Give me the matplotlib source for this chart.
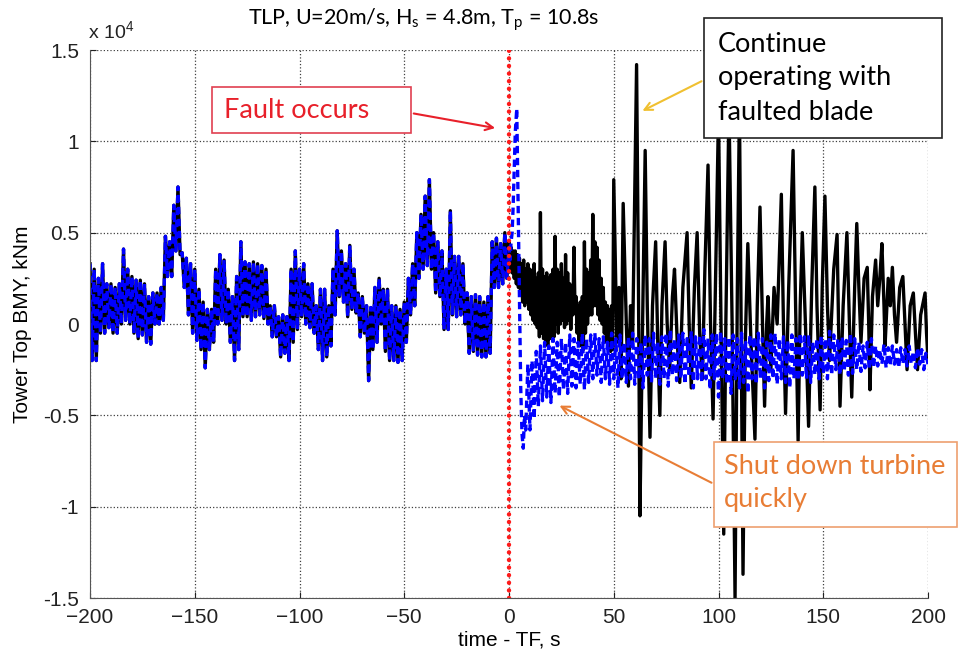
import numpy as np
import matplotlib.pyplot as plt
from matplotlib.patches import Rectangle

# values in units of 1e4 kNm

# before the fault: upper / lower values of the band every 2 s (t = -200 ... -2)
pre_t0 = -200
pre_hi = [0.33, 0.30, 0.25, 0.33, 0.22, 0.22, 0.20, 0.22, 0.41, 0.30,
          0.26, 0.24, 0.24, 0.22, 0.15, 0.17, 0.17, 0.20, 0.48, 0.45,
          0.65, 0.75, 0.39, 0.36, 0.33, 0.30, 0.19, 0.12, 0.08, 0.08,
          0.30, 0.38, 0.35, 0.19, 0.15, 0.26, 0.45, 0.34, 0.33, 0.34,
          0.33, 0.32, 0.30, 0.10, 0.10, 0.04, 0.05, 0.04, 0.30, 0.40,
          0.30, 0.33, 0.22, 0.22, 0.10, 0.19, 0.19, 0.10, 0.30, 0.51,
          0.40, 0.33, 0.43, 0.30, 0.17, 0.15, 0.10, 0.09, 0.20, 0.25,
          0.19, 0.19, 0.10, 0.10, 0.08, 0.12, 0.25, 0.33, 0.50, 0.60,
          0.70, 0.79, 0.50, 0.45, 0.40, 0.30, 0.62, 0.37, 0.37, 0.33,
          0.17, 0.15, 0.16, 0.15, 0.12, 0.15, 0.45, 0.47, 0.44, 0.50]
pre_lo = [-0.20, -0.20, -0.05, -0.05, -0.02, -0.05, -0.05, 0.00, 0.02, 0.00,
          -0.05, -0.08, -0.06, -0.10, -0.11, 0.00, 0.00, 0.02, 0.26, 0.26,
          0.40, 0.38, 0.20, 0.05, -0.05, -0.09, -0.14, -0.24, -0.14, -0.10,
          0.00, 0.02, 0.00, -0.10, -0.20, -0.14, 0.04, 0.04, 0.02, 0.04,
          0.05, 0.03, 0.00, -0.07, -0.07, -0.18, -0.16, -0.20, -0.10, -0.03,
          0.04, 0.00, -0.02, -0.05, -0.14, -0.20, -0.18, -0.12, 0.05, 0.15,
          0.12, 0.04, 0.08, 0.06, -0.07, -0.05, -0.31, -0.14, -0.10, 0.00,
          -0.15, -0.20, -0.20, -0.21, -0.20, -0.10, 0.05, 0.10, 0.25, 0.30,
          0.32, 0.30, 0.17, 0.15, -0.03, -0.03, 0.05, 0.04, 0.05, 0.00,
          -0.16, -0.15, -0.17, -0.18, -0.18, -0.16, 0.20, 0.20, 0.22, 0.25]

# continue operating (black): band every 1 s for t = 0 ... 49
cont_hi = [0.45, 0.42, 0.40, 0.40, 0.38, 0.36, 0.33, 0.35, 0.30, 0.33,
           0.30, 0.28, 0.33, 0.25, 0.28, 0.61, 0.30, 0.26, 0.28, 0.25,
           0.27, 0.30, 0.48, 0.30, 0.28, 0.33, 0.25, 0.38, 0.28, 0.22,
           0.20, 0.42, 0.15, 0.10, 0.12, 0.15, 0.45, 0.30, 0.28, 0.35,
           0.60, 0.45, 0.42, 0.35, 0.25, 0.20, 0.12, 0.10, 0.08, 0.10]
cont_lo = [0.30, 0.28, 0.25, 0.22, 0.20, 0.18, 0.12, 0.10, 0.12, 0.08,
           0.05, 0.02, 0.00, -0.02, -0.07, -0.05, -0.08, -0.10, -0.12, -0.08,
           -0.05, -0.07, 0.00, -0.05, 0.00, 0.02, -0.02, 0.00, 0.02, -0.03,
           0.05, 0.08, -0.05, -0.10, -0.12, -0.14, -0.05, 0.00, 0.05, 0.05,
           0.10, 0.10, 0.05, 0.02, 0.00, -0.05, -0.10, -0.14, -0.15, -0.14]
# continue operating (black): peaks and troughs from t = 50 s
cont_t = [50, 51.5, 52.5, 53.5, 54.5, 56, 57, 58, 59, 60.9, 61.8, 62.5, 63.5,
          65, 66, 67.3, 68.5, 70, 71, 72, 73, 74.5, 75.5, 76.7, 78, 79, 80.3,
          81.5, 83, 85, 86, 87, 88.5, 89.8, 91, 92.3, 93.5, 95, 96.2, 97.4,
          98.5, 100, 101.2, 102.5, 103.5, 105, 106.5, 107.9, 109, 110, 110.8,
          111.7, 112.8, 114, 115.5, 117.4, 118.5, 119.8, 121, 122, 123, 123.6,
          125, 126.5, 128, 130, 131, 132, 133.5, 135.6, 136.8, 138, 139, 140,
          141.5, 143, 144.5, 146, 147, 148.5, 149.5, 150.8, 152, 153, 155,
          156.6, 157.3, 158, 159.5, 161.3, 162.5, 163.6, 165, 166, 167, 168,
          169.5, 171, 171.7, 172.3, 173.5, 175, 176, 177, 178, 179, 179.5,
          181, 182, 183, 184, 185, 186.5, 188, 189, 190, 191.5, 193, 194, 195,
          196.5, 198.6, 199.3, 200]
cont_v = [0.79, -0.10, 0.20, -0.30, 0.66, 0.00, -0.34, 0.10, -0.10, 1.42, 0.20, -1.05, -0.20,
          0.95, 0.10, -0.62, 0.10, 0.45, -0.10, -0.50, 0.10, 0.45, 0.00, -0.25, 0.15, 0.30, -0.10,
          -0.32, 0.20, 0.50, 0.00, -0.35, 0.20, 0.50, -0.05, -0.30, 0.30, 0.87, 0.00, -0.52,
          0.20, 1.15, 0.00, -1.15, 0.00, 1.20, 0.00, -1.50, 0.20, 1.20, 0.00,
          -1.37, -0.10, 0.44, -0.10, -0.63, 0.10, 0.64, 0.00, -0.45, 0.00, 0.15,
          -0.25, 0.20, 0.00, 0.71, 0.00, -0.49, 0.20, 0.95, 0.10, -0.64, 0.10, 0.50,
          0.00, -0.56, 0.20, 0.75, 0.10, -0.47, 0.20, 0.70, 0.10, -0.20, 0.30,
          0.49, 0.00, -0.45, 0.10, 0.50, 0.00, -0.40, 0.20, 0.55, 0.20, -0.10,
          0.25, 0.31, 0.00, -0.36, 0.15, 0.35, 0.10, 0.25, 0.44, 0.10, -0.12,
          0.25, 0.10, 0.31, 0.05, -0.10, 0.20, 0.26, 0.00, -0.25, 0.10, 0.17, -0.05, -0.25,
          0.05, 0.17, -0.05, -0.20]

# shut down (blue): transient right after the fault
shut_tr_t = [0, 0.5, 1.0, 1.5, 2.0, 2.5, 3.0, 3.7, 4.3, 5.0, 5.6, 6.2, 6.8, 7.4, 8.0]
shut_tr_v = [0.42, 0.35, 0.45, 0.50, 0.65, 0.85, 1.05, 1.18, 0.70, 0.10, -0.35, -0.60, -0.68, -0.50, -0.58]
# shut down (blue): band every 2 s for t = 9 ... 199
shut_hi = [-0.22, -0.20, -0.15, -0.12, -0.10, -0.12, -0.08, -0.10, -0.08, -0.10,
           -0.06, -0.08, -0.10, -0.05, -0.08, -0.06, -0.05, -0.08, -0.07, -0.10,
           -0.05, -0.08, -0.06, -0.10, -0.07, -0.05, -0.08, -0.10, -0.06, -0.08,
           -0.05, -0.10, -0.07, -0.05, -0.03, -0.08, -0.06, -0.05, -0.08, -0.04,
           -0.07, -0.06, -0.03, -0.08, -0.06, -0.05, -0.04, -0.08, -0.07, -0.06,
           -0.08, -0.05, -0.10, -0.06, -0.07, -0.05, -0.08, -0.10, -0.06, -0.05,
           -0.08, -0.07, -0.09, -0.06, -0.08, -0.05, -0.07, -0.06, -0.10, -0.08,
           -0.06, -0.08, -0.04, -0.06, -0.08, -0.07, -0.09, -0.05, -0.08, -0.10,
           -0.12, -0.10, -0.08, -0.12, -0.14, -0.11, -0.13, -0.12, -0.14, -0.13,
           -0.14, -0.12, -0.15, -0.13, -0.14, -0.16]
shut_lo = [-0.58, -0.52, -0.45, -0.42, -0.40, -0.43, -0.38, -0.40, -0.36, -0.38,
           -0.34, -0.35, -0.33, -0.36, -0.32, -0.30, -0.28, -0.32, -0.30, -0.33,
           -0.30, -0.35, -0.30, -0.32, -0.30, -0.33, -0.30, -0.35, -0.28, -0.32,
           -0.30, -0.33, -0.30, -0.34, -0.28, -0.31, -0.30, -0.33, -0.29, -0.35,
           -0.30, -0.32, -0.30, -0.36, -0.30, -0.40, -0.30, -0.33, -0.38, -0.30,
           -0.35, -0.32, -0.38, -0.30, -0.33, -0.30, -0.35, -0.31, -0.30, -0.33,
           -0.30, -0.32, -0.35, -0.30, -0.31, -0.28, -0.30, -0.32, -0.28, -0.30,
           -0.27, -0.30, -0.28, -0.25, -0.28, -0.26, -0.28, -0.27, -0.25, -0.26,
           -0.24, -0.25, -0.24, -0.23, -0.22, -0.24, -0.23, -0.22, -0.24, -0.22,
           -0.23, -0.22, -0.24, -0.22, -0.25, -0.22]

fault_time = 0
yticks = [-1.5, -1, -0.5, 0, 0.5, 1, 1.5]
ytick_labels = ['-1.5', '-1', '-0.5', '0', '0.5', '1', '1.5']
xticks = [-200, -150, -100, -50, 0, 50, 100, 150, 200]


def zigzag(t0, step, hi, lo):
    t = t0 + step * np.arange(len(hi))
    tt = np.column_stack([t, t + step / 2]).ravel()
    vv = np.column_stack([hi, lo]).ravel()
    return tt, vv


t_pre, v_pre = zigzag(pre_t0, 2, pre_hi, pre_lo)
t_c1, v_c1 = zigzag(0, 1, cont_hi, cont_lo)
t_s2, v_s2 = zigzag(9, 2, shut_hi, shut_lo)

t_black = np.concatenate([t_pre, t_c1, cont_t])
v_black = np.concatenate([v_pre, v_c1, cont_v])
t_blue = np.concatenate([t_pre, shut_tr_t, t_s2])
v_blue = np.concatenate([v_pre, shut_tr_v, v_s2])

W, H = 959, 658
fig = plt.figure(figsize=(W / 100, H / 100), dpi=100)
ax = fig.add_axes([90 / W, 60 / H, 838 / W, 548 / H])

ax.plot(t_black, v_black, color='black', lw=2.4)
ax.plot(t_blue, v_blue, color='#0000ff', lw=2.4, ls='--', dashes=(2.2, 1.4))
ax.axvline(fault_time, color='#ff1a1a', lw=3.2, ls=(0, (0.01, 1.7)), dash_capstyle='round')

ax.set_xlim(-200, 200)
ax.set_ylim(-1.5, 1.5)
ax.set_xticks(xticks)
ax.set_yticks(yticks)
ax.set_yticklabels(ytick_labels)
ax.grid(True, ls=':', color='#404040', lw=0.9)
for s in ['top', 'right']:
    ax.spines[s].set_visible(False)
ax.spines['left'].set_color('#555555')
ax.spines['bottom'].set_color('#555555')
ax.tick_params(direction='in', length=4, labelsize=15, colors='#222222')
ax.tick_params(axis='x', pad=7)
ax.tick_params(axis='y', pad=8)
for lab in ax.get_xticklabels() + ax.get_yticklabels():
    lab.set_family('Liberation Sans')

ax.set_xlabel('time - TF, s', fontsize=15, family='Liberation Sans', labelpad=3)
ax.set_ylabel('Tower Top BMY, kNm', fontsize=15, family='Liberation Sans', labelpad=8)

fig.text(88 / W, 1 - 32 / H, 'x 10$^\\mathregular{4}$', fontsize=14, family='Liberation Sans',
         va='center', ha='left', color='#222222')
fig.text(248 / W, 1 - 20 / H, 'TLP, U=20m/s, H$_\\mathregular{s}$ = 4.8m, T$_\\mathregular{p}$ = 10.8s',
         fontsize=15.5, family='Lato', ha='left', va='center')


def box(x0, y0, x1, y1, edge):
    r = Rectangle((x0 / W, 1 - y1 / H), (x1 - x0) / W, (y1 - y0) / H, transform=fig.transFigure,
                  facecolor='white', edgecolor=edge, lw=1.2, zorder=5)
    fig.add_artist(r)


def label(x, y, s, color):
    t = fig.text(x / W, 1 - y / H, s, fontsize=19.5, family='Lato', color=color,
                 ha='left', va='center', zorder=6)
    return t


red = '#e8202a'
orange = '#e87d35'

box(212, 87, 411, 133, '#e04050')
label(224, 110, 'Fault occurs', red)
ax.annotate('', xy=(-5.3, 1.07), xycoords='data', xytext=(411, H - 113), textcoords='figure pixels',
            arrowprops=dict(arrowstyle='->', color=red, lw=1.5, mutation_scale=14), zorder=6)

box(704, 18, 942, 138, '#222222')
label(718, 44, 'Continue', 'black')
label(718, 78, 'operating with', 'black')
label(718, 113, 'faulted blade', 'black')
ax.annotate('', xy=(62.5, 1.16), xycoords='data', xytext=(704, H - 80), textcoords='figure pixels',
            arrowprops=dict(arrowstyle='->', color='#f0c030', lw=1.5, mutation_scale=14), zorder=6)

box(714, 442, 957, 527, '#eda070')
label(724, 467, 'Shut down turbine', orange)
label(724, 500, 'quickly', orange)
ax.annotate('', xy=(22.9, -0.44), xycoords='data', xytext=(714, H - 484), textcoords='figure pixels',
            arrowprops=dict(arrowstyle='->', color=orange, lw=1.5, mutation_scale=14), zorder=6)

fig.savefig('out.png', dpi=100)
